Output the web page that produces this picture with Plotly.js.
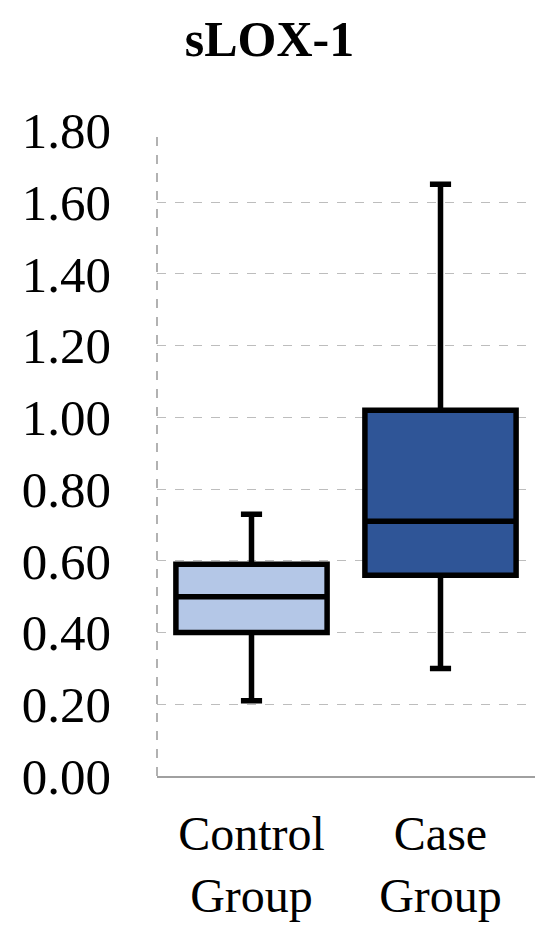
<!DOCTYPE html>
<html>
<head>
<meta charset="utf-8">
<script src="https://cdn.plot.ly/plotly-3.0.1.min.js"></script>
<style>
  html, body { margin: 0; padding: 0; background: #fff; }
  #plot { width: 550px; height: 940px; }
</style>
</head>
<body>
<div id="plot"></div>
<script>
// Box statistics
let groups = ["Control<br>Group", "Case<br>Group"]
let q1 = [0.40, 0.56]
let medians = [0.50, 0.71]
let q3 = [0.59, 1.02]
let lowerWhisker = [0.21, 0.30]
let upperWhisker = [0.73, 1.65]
let fills = ["#B4C7E7", "#2F5597"]
let yTicks = [0, 0.2, 0.4, 0.6, 0.8, 1.0, 1.2, 1.4, 1.6, 1.8]

// One box trace per group so each gets its own colour
let data = []
for (let i in groups) {
  data.push({
    type: "box",
    x: [groups[i]],
    q1: [q1[i]],
    median: [medians[i]],
    q3: [q3[i]],
    lowerfence: [lowerWhisker[i]],
    upperfence: [upperWhisker[i]],
    fillcolor: fills[i],
    line: { color: "#000", width: 5.5 },
    width: 0.8,
    whiskerwidth: 0.14,
    boxpoints: false,
    hoverinfo: "skip",
    showlegend: false
  });
}

let serif = "'Liberation Serif', 'DejaVu Serif', serif"

let layout = {
  width: 550,
  height: 940,
  margin: { l: 157, r: 15, t: 130, b: 164 },
  paper_bgcolor: "#fff",
  plot_bgcolor: "#fff",
  boxmode: "overlay",
  title: {
    text: "<b>sLOX-1</b>",
    font: { family: serif, size: 50, color: "#000" },
    x: 0.49,
    xanchor: "center",
    y: 0.94,
    yanchor: "bottom"
  },
  xaxis: {
    type: "category",
    showgrid: false,
    showline: true,
    linecolor: "#a0a0a0",
    linewidth: 2,
    ticks: "",
    ticklabelstandoff: 14,
    tickfont: { family: serif, size: 48, color: "#000" }
  },
  yaxis: {
    range: [0, 1.801],
    tickvals: yTicks,
    tickformat: ".2f",
    showgrid: true,
    gridcolor: "#bdbdbd",
    griddash: "dash",
    gridwidth: 1,
    zeroline: false,
    showline: false,
    ticks: "",
    ticklabelstandoff: 45,
    tickfont: { family: serif, size: 51, color: "#000" }
  },
  shapes: [{
    type: "line",
    xref: "paper", yref: "paper",
    x0: 0, x1: 0, y0: 0, y1: 1,
    line: { color: "#999", width: 1.5, dash: "dash" },
    layer: "below"
  }]
};

Plotly.newPlot("plot", data, layout, { displayModeBar: false, staticPlot: true });
</script>
</body>
</html>
